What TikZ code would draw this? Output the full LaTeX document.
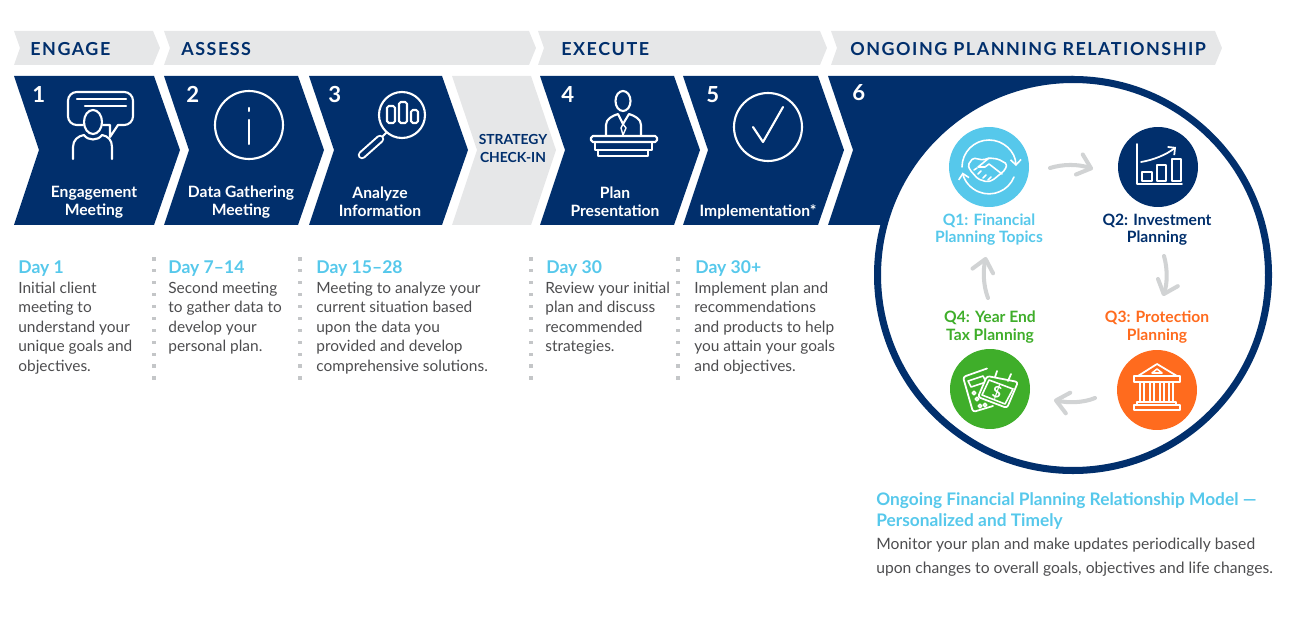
\documentclass[tikz,border=0pt]{standalone}
\usepackage{fontspec}
\setmainfont{Lato}
\newfontfamily\headfont[LetterSpace=8.5]{Lato}
\usetikzlibrary{arrows.meta}
\definecolor{navyblue}{HTML}{012F6C}
\definecolor{bandgray}{HTML}{E6E7E8}
\definecolor{arrowgray}{HTML}{D1D3D4}
\definecolor{dotgray}{HTML}{C4C6C8}
\definecolor{textgray}{HTML}{4D4D4F}
\definecolor{skyblue}{HTML}{56C8EB}
\definecolor{leafgreen}{HTML}{3FAE2A}
\definecolor{flameorange}{HTML}{FF6B1E}
\tikzset{
  bandtext/.style={anchor=west,inner sep=0pt,text=navyblue,font=\headfont\bfseries\fontsize{10.2pt}{12pt}\selectfont},
  numtext/.style={anchor=west,inner sep=0pt,text=white,font=\bfseries\fontsize{12.6pt}{14pt}\selectfont},
  steptext/.style={align=center,inner sep=0pt,text=white,font=\bfseries\fontsize{8.9pt}{10.3pt}\selectfont},
  daytext/.style={anchor=west,inner sep=0pt,text=skyblue,font=\bfseries\fontsize{10pt}{12pt}\selectfont},
  bodytext/.style={anchor=north west,align=left,inner sep=0pt,text=textgray,font=\fontsize{8.8pt}{11.1pt}\selectfont},
  qlabel/.style={align=center,inner sep=0pt,font=\bfseries\fontsize{8.9pt}{10pt}\selectfont},
  qdisc/.style={circle,minimum size=1.6cm,inner sep=0pt},
  iconline/.style={draw=white,line width=1.2pt,line join=round,line cap=round},
  cyclearrow/.style={draw=arrowgray,line width=2.3pt,line cap=round,-{Straight Barb[length=7pt,width=12pt,round]}}
}
\begin{document}
\begin{tikzpicture}[x=0.02cm,y=-0.02cm]
\useasboundingbox (0,0) rectangle (1314,624);
% bands along the top
\foreach \xa/\xb in {14/153,164/529,538/820,831/1215}
  \fill[bandgray] (\xa,31) -- (\xb,31) -- (\xb+7,48) -- (\xb,65) -- (\xa,65) -- (\xa+6,48) -- cycle;
\node[bandtext] (engage) at (30,49.5) {ENGAGE};
\node[bandtext] (assess) at (181,49.5) {ASSESS};
\node[bandtext] (execute) at (561,49.5) {EXECUTE};
\node[bandtext] (ongoing) at (850,49.5) {ONGOING PLANNING RELATIONSHIP};
% chevrons
\foreach \xa/\xb in {14/154,164/298,309/442,540/674,683/818}
  \fill[navyblue] (\xa,76) -- (\xb,76) -- (\xb+26,150) -- (\xb,225) -- (\xa,225) -- (\xa+25,150) -- cycle;
\fill[bandgray] (452,76) -- (531,76) -- (556,150) -- (531,225) -- (452,225) -- (477,150) -- cycle;
\fill[navyblue] (828,76) -- (1073,76) -- (1073,225) -- (828,225) -- (853,150) -- cycle;
\node[numtext] (num1) at (32,94.5) {1};
\node[numtext] (num2) at (186,94.5) {2};
\node[numtext] (num3) at (328,94.5) {3};
\node[numtext] (num4) at (561,94.5) {4};
\node[numtext] (num5) at (706,94.5) {5};
\node[numtext] (num6) at (852,92.5) {6};
\node[steptext] (meet) at (94,202.5) {Engagement\\Meeting};
\node[steptext] (data) at (241,202.5) {Data Gathering\\Meeting};
\node[steptext] (analyze) at (380,201.5) {Analyze\\Information};
\node[align=center,inner sep=0pt,text=navyblue,font=\bfseries\fontsize{7.9pt}{9.8pt}\selectfont] (check) at (513,148.5) {STRATEGY\\CHECK-IN};
\node[steptext] (plan) at (615,201.5) {Plan\\Presentation};
\node[steptext] (impl) at (758,211.5) {Implementation*};
% icon 1
\draw[iconline,rounded corners=5pt] (83,125) -- (68,125) -- (68,92) -- (133,92) -- (133,125) -- (118,125);
\draw[iconline] (118,125) -- (110,137) -- (110,125) -- (103,125);
\draw[iconline] (77,99) -- (126,99) (85,106) -- (126,106);
\draw[iconline] (93,122) ellipse (9 and 12);
\draw[iconline] (73,159) -- (73,147) .. controls (73,140) and (78,136) .. (84,135) .. controls (88,141) and (98,141) .. (102,135) .. controls (108,136) and (112,140) .. (112,147) -- (112,159);
% icon 2
\draw[iconline] (249,125) circle (34);
\draw[iconline] (249,108) -- (249,111) (249,120) -- (249,144);
% icon 3
\draw[iconline] (402,115) circle (23);
\draw[iconline,rounded corners=1pt] (387,106) rectangle (395,123);
\draw[iconline,rounded corners=1pt] (399,102) rectangle (407,123);
\draw[iconline,rounded corners=1pt] (411,110) rectangle (418,123);
\draw[iconline] (386,133) -- (381,138);
\draw[white,line width=4.8pt,line cap=round] (380,139) -- (362,155);
\draw[navyblue,line width=2.5pt,line cap=round] (380,139) -- (362,155);
% icon 4
\draw[iconline] (623,101) ellipse (7.5 and 10);
\draw[iconline] (606,135) -- (606,125) .. controls (606,119) and (612,116) .. (618,114) -- (623,124) -- (629,114) .. controls (635,116) and (641,119) .. (641,125) -- (641,135);
\draw[iconline,line width=.8pt] (623,124) -- (621,128) -- (623,135) -- (626,128) -- cycle;
\draw[iconline,rounded corners=1pt] (591,136) rectangle (657,142);
\draw[iconline] (595,142) -- (595,150) -- (652,150) -- (652,142);
\draw[iconline] (598,150) -- (598,156) -- (648,156) -- (648,150);
% icon 5
\draw[iconline] (768,127) circle (34);
\draw[iconline] (753,127) -- (763,142) -- (783,107);
% dotted separators
\foreach \xa in {154,300,531,678}
  \foreach \k in {0,...,10}
    \fill[dotgray] (\xa-1.6,259+\k*11.9-1.6) rectangle (\xa+1.6,259+\k*11.9+1.6);
% day columns
\node[daytext] (day1) at (18,269) {Day 1};
\node[bodytext] (text1) at (18,281.5) {Initial client\\meeting to\\understand your\\unique goals and\\objectives.};
\node[daytext] (day2) at (168,269) {Day 7--14};
\node[bodytext] (text2) at (168,281.5) {Second meeting\\to gather data to\\develop your\\personal plan.};
\node[daytext] (day3) at (316,269) {Day 15--28};
\node[bodytext] (text3) at (316,281.5) {Meeting to analyze your\\current situation based\\upon the data you\\provided and develop\\comprehensive solutions.};
\node[daytext] (day4) at (546,269) {Day 30};
\node[bodytext] (text4) at (545,281.5) {Review your initial\\plan and discuss\\recommended\\strategies.};
\node[daytext] (day5) at (695,269) {Day 30+};
\node[bodytext] (text5) at (694,281.5) {Implement plan and\\recommendations\\and products to help\\you attain your goals\\and objectives.};
% ring with the four quarters
\draw[navyblue,fill=white,line width=4pt] (1073,275) circle (195.5);
\node[qdisc,fill=skyblue] (q1) at (989,167) {};
\node[qdisc,fill=navyblue] (q2) at (1158,167) {};
\node[qdisc,fill=flameorange] (q3) at (1157,390) {};
\node[qdisc,fill=leafgreen] (q4) at (990,389) {};
\node[qlabel,text=skyblue] (q1text) at (989,229.5) {Q1: Financial\\Planning Topics};
\node[qlabel,text=navyblue] (q2text) at (1157,229.5) {Q2: Investment\\Planning};
\node[qlabel,text=flameorange] (q3text) at (1157,327) {Q3: Protection\\Planning};
\node[qlabel,text=leafgreen] (q4text) at (990,327) {Q4: Year End\\Tax Planning};
\coordinate (q1out) at (1050,168);
\coordinate (q2in) at (1093,169);
\coordinate (q2out) at (1164,256);
\coordinate (q3in) at (1163,296);
\coordinate (q3out) at (1095,398);
\coordinate (q4in) at (1054,400);
\coordinate (q4out) at (988,298);
\coordinate (q1in) at (986,257);
\draw[cyclearrow] (q1out) .. controls (1063,164) and (1078,164) .. (q2in);
\draw[cyclearrow] (q2out) .. controls (1168,270) and (1167,285) .. (q3in);
\draw[cyclearrow] (q3out) .. controls (1083,403) and (1068,403) .. (q4in);
\draw[cyclearrow] (q4out) .. controls (983,285) and (983,270) .. (q1in);
% Q1 icon
\draw[iconline,line width=.9pt,-{Straight Barb[length=3pt,width=6pt]}] (962,167) arc[start angle=180,end angle=358,radius=27];
\draw[iconline,line width=.9pt,-{Straight Barb[length=3pt,width=6pt]}] (1014,177) arc[start angle=22,end angle=168,radius=27];
\draw[iconline,line width=.9pt,rounded corners=1pt] (968,165) -- (973,158) -- (983,160) -- (989,158) -- (998,159) -- (1007,164) -- (1005,170) -- (993,180) -- (987,182) -- (978,179) -- (970,170) -- cycle;
\draw[iconline,line width=.9pt] (989,158) -- (978,167) -- (985,167) -- (989,164) -- (1002,174);
\draw[iconline,line width=.9pt] (974,170) -- (977,168) (978,174) -- (981,171) (983,178) -- (986,175) (988,180) -- (991,177);
% Q2 icon
\draw[iconline,line width=1pt] (1137,144) -- (1137,184) -- (1182,184);
\draw[iconline,line width=1pt] (1142,172) rectangle (1152,181);
\draw[iconline,line width=1pt] (1157,165) rectangle (1166,181);
\draw[iconline,line width=1pt] (1172,159) rectangle (1181,181);
\draw[iconline,line width=1pt,-{Straight Barb[length=3pt,width=6pt]}] (1141,162) .. controls (1153,160) and (1166,155) .. (1176,147);
% Q3 icon
\draw[iconline,line width=1pt] (1138,376) -- (1157,364) -- (1177,376);
\draw[iconline,line width=.9pt] (1157,369) -- (1152,373) -- (1162,373) -- cycle;
\draw[iconline,line width=1pt] (1134,376) rectangle (1180,382);
\foreach \xa in {1140,1150,1160,1169}
  \draw[iconline,line width=1pt] (\xa,383) -- (\xa,402) (\xa+4,383) -- (\xa+4,402);
\draw[iconline,line width=1pt] (1137,402) rectangle (1176,405);
\draw[iconline,line width=1pt] (1134,405) rectangle (1180,410);
% Q4 icon
\draw[iconline,line width=1pt,rounded corners=1.5pt] (987,368.5) -- (963,377) -- (973,412) -- (993,406);
\draw[iconline,line width=.9pt] (968,381) -- (983,376) -- (986,382) -- (971,387) -- cycle;
\foreach \xa/\ya in {974/393,977/399,980/406,985/405}
  \draw[iconline,line width=.9pt] (\xa,\ya) circle (1.8);
\draw[iconline,line width=1pt,fill=leafgreen,rounded corners=1.5pt] (987,376) -- (1018,382) -- (1007,408) -- (978,397) -- cycle;
\draw[iconline,line width=.9pt] (989,380) -- (1013,389) -- (1005,404) -- (982,395) -- cycle;
\draw[iconline,line width=1pt] (997,371) -- (995,377) (1011,374) -- (1008,381);
\node[text=white,inner sep=0pt,rotate=-15,font=\bfseries\fontsize{9pt}{10pt}\selectfont] (dollar) at (997,392) {\$};
% caption under the ring
\node[anchor=north west,align=left,inner sep=0pt,text=skyblue,font=\bfseries\fontsize{9.85pt}{12pt}\selectfont] (captitle) at (876,492) {Ongoing Financial Planning Relationship Model ---\\Personalized and Timely};
\node[anchor=north west,align=left,inner sep=0pt,text=textgray,font=\fontsize{8.9pt}{13.6pt}\selectfont] (captext) at (876,537.5) {Monitor your plan and make updates periodically based\\upon changes to overall goals, objectives and life changes.};
\end{tikzpicture}
\end{document}
